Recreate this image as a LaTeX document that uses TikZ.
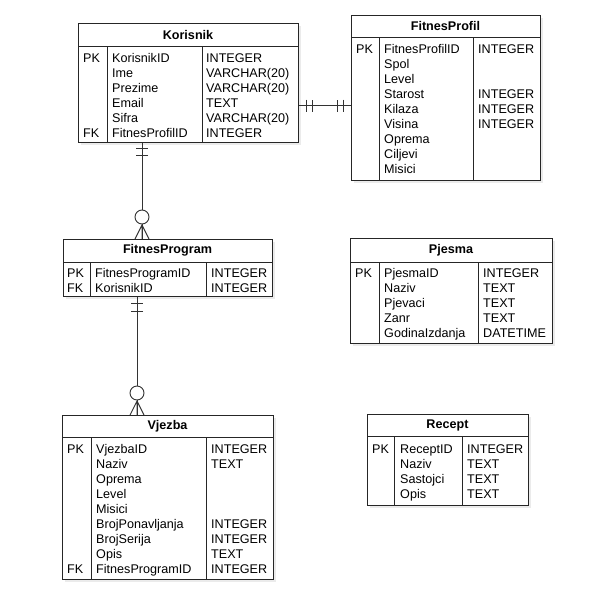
\documentclass[tikz,border=0pt]{standalone}
\usepackage{fontspec}
\setmainfont{Liberation Sans}
\usetikzlibrary{shadows}

\begin{document}
\begin{tikzpicture}[x=1pt, y=-1pt,
  table/.style={draw=black!85, line width=0.9pt, fill=white, inner sep=0pt, anchor=north west,
    drop shadow={shadow xshift=3pt, shadow yshift=-3pt, fill=black!8, opacity=1}},
  title/.style={font=\fontsize{12.6}{15}\selectfont\bfseries, inner sep=0pt},
  cell/.style={font=\fontsize{12.6}{15}\selectfont, anchor=base west, inner sep=0pt},
  rule/.style={black!85, line width=0.9pt},
  link/.style={black!80, line width=0.9pt}]
\useasboundingbox (0,0) rectangle (598,595);

% Korisnik
\node[table, minimum width=220, minimum height=119] (korisnik) at (78,23) {};
\draw[rule] (78,46) -- (298,46) (107,46) -- (107,142) (202,46) -- (202,142);
\node[title] (korisnik-title) at (188,34.5) {Korisnik};
\foreach \k/\n/\t [count=\i] in {PK/KorisnikID/INTEGER, /Ime/VARCHAR(20), /Prezime/VARCHAR(20),
    /Email/TEXT, /Sifra/VARCHAR(20), FK/FitnesProfilID/INTEGER} {
  \node[cell] (korisnik-k\i) at (83,47+15*\i) {\k};
  \node[cell] (korisnik-n\i) at (112,47+15*\i) {\n};
  \node[cell] (korisnik-t\i) at (206,47+15*\i) {\t};
}

% FitnesProfil
\node[table, minimum width=189, minimum height=165] (profil) at (351,15) {};
\draw[rule] (351,37) -- (540,37) (379,37) -- (379,180) (473,37) -- (473,180);
\node[title] (profil-title) at (445.5,26) {FitnesProfil};
\foreach \k/\n/\t [count=\i] in {PK/FitnesProfilID/INTEGER, /Spol/, /Level/, /Starost/INTEGER,
    /Kilaza/INTEGER, /Visina/INTEGER, /Oprema/, /Ciljevi/, /Misici/} {
  \node[cell] (profil-k\i) at (356,38+15*\i) {\k};
  \node[cell] (profil-n\i) at (384,38+15*\i) {\n};
  \node[cell] (profil-t\i) at (478,38+15*\i) {\t};
}

% FitnesProgram
\node[table, minimum width=209, minimum height=57] (program) at (63,239) {};
\draw[rule] (63,262) -- (272,262) (90,262) -- (90,296) (206,262) -- (206,296);
\node[title] (program-title) at (167.5,250.5) {FitnesProgram};
\foreach \k/\n/\t [count=\i] in {PK/FitnesProgramID/INTEGER, FK/KorisnikID/INTEGER} {
  \node[cell] (program-k\i) at (67,262.5+15*\i) {\k};
  \node[cell] (program-n\i) at (95,262.5+15*\i) {\n};
  \node[cell] (program-t\i) at (211,262.5+15*\i) {\t};
}

% Pjesma
\node[table, minimum width=202, minimum height=105] (pjesma) at (350,238) {};
\draw[rule] (350,262) -- (552,262) (379,262) -- (379,343) (478,262) -- (478,343);
\node[title] (pjesma-title) at (451,250) {Pjesma};
\foreach \k/\n/\t [count=\i] in {PK/PjesmaID/INTEGER, /Naziv/TEXT, /Pjevaci/TEXT, /Zanr/TEXT,
    /GodinaIzdanja/DATETIME} {
  \node[cell] (pjesma-k\i) at (355,262.5+15*\i) {\k};
  \node[cell] (pjesma-n\i) at (384,262.5+15*\i) {\n};
  \node[cell] (pjesma-t\i) at (483,262.5+15*\i) {\t};
}

% Vjezba
\node[table, minimum width=211, minimum height=164] (vjezba) at (62,415) {};
\draw[rule] (62,437) -- (273,437) (91,437) -- (91,579) (206,437) -- (206,579);
\node[title] (vjezba-title) at (167.5,426) {Vjezba};
\foreach \k/\n/\t [count=\i] in {PK/VjezbaID/INTEGER, /Naziv/TEXT, /Oprema/, /Level/, /Misici/,
    /BrojPonavljanja/INTEGER, /BrojSerija/INTEGER, /Opis/TEXT, FK/FitnesProgramID/INTEGER} {
  \node[cell] (vjezba-k\i) at (67,438+15*\i) {\k};
  \node[cell] (vjezba-n\i) at (96,438+15*\i) {\n};
  \node[cell] (vjezba-t\i) at (211,438+15*\i) {\t};
}

% Recept
\node[table, minimum width=161, minimum height=91] (recept) at (367,414) {};
\draw[rule] (367,436) -- (528,436) (394,436) -- (394,505) (462,436) -- (462,505);
\node[title] (recept-title) at (447.5,425) {Recept};
\foreach \k/\n/\t [count=\i] in {PK/ReceptID/INTEGER, /Naziv/TEXT, /Sastojci/TEXT, /Opis/TEXT} {
  \node[cell] (recept-k\i) at (372,438.5+15*\i) {\k};
  \node[cell] (recept-n\i) at (400,438.5+15*\i) {\n};
  \node[cell] (recept-t\i) at (467,438.5+15*\i) {\t};
}

% Korisnik -- FitnesProfil
\coordinate (kf) at (0,105.5);
\draw[link] (korisnik.east |- kf) -- (profil.west |- kf);
\draw[link] (korisnik.east |- kf) ++(8,-6) -- ++(0,12) ++(6,0) -- ++(0,-12);
\draw[link] (profil.west |- kf) ++(-8,-6) -- ++(0,12) ++(-6,0) -- ++(0,-12);

% Korisnik -- FitnesProgram
\coordinate (kp) at (142,0);
\draw[link] (korisnik.south -| kp) -- (program.north -| kp);
\draw[link] (korisnik.south -| kp) ++(-6,6) -- ++(12,0) ++(0,7) -- ++(-12,0);
\draw[link, fill=white] (program.north -| kp) ++(0,-22) circle[radius=7];
\draw[link] (program.north -| kp) ++(-7,0) -- ++(7,-14) -- ++(7,14) (program.north -| kp) -- ++(0,-14);

% FitnesProgram -- Vjezba
\coordinate (pv) at (137,0);
\draw[link] (program.south -| pv) -- (vjezba.north -| pv);
\draw[link] (program.south -| pv) ++(-6,7) -- ++(12,0) ++(0,8) -- ++(-12,0);
\draw[link, fill=white] (vjezba.north -| pv) ++(0,-22) circle[radius=7];
\draw[link] (vjezba.north -| pv) ++(-7,0) -- ++(7,-14) -- ++(7,14) (vjezba.north -| pv) -- ++(0,-14);
\end{tikzpicture}
\end{document}
